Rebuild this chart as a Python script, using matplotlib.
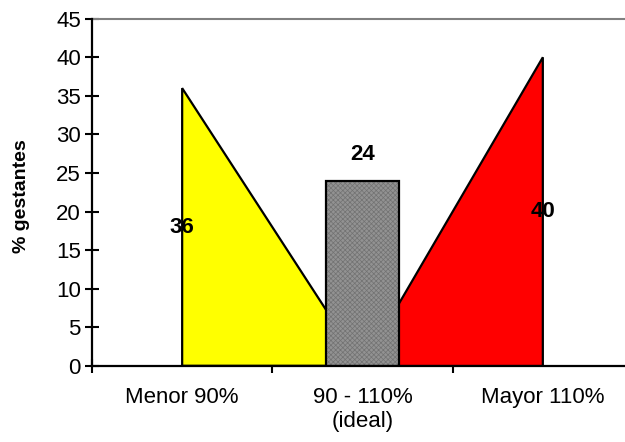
import matplotlib
matplotlib.use("Agg")
import matplotlib.pyplot as plt
import numpy as np

plt.rcParams['font.family'] = ['Liberation Sans', 'DejaVu Sans']
plt.rcParams['hatch.linewidth'] = 0.5

categories = ["Menor 90%", "90 - 110%\n(ideal)", "Mayor 110%"]
menor = [36, 0, 0]
ideal = [0, 24, 0]
mayor = [0, 0, 40]
yticks = list(range(0, 50, 5))

fig = plt.figure(figsize=(6.25, 4.42), dpi=100)
ax = fig.add_axes([92 / 625, 76 / 442, 541 / 625, 347.3 / 442])

x = np.arange(len(categories))

# area series: polygons closed down to the baseline
ax.fill(np.concatenate([x[:1], x]), np.concatenate([[0], menor]),
        facecolor="#ffff00", edgecolor="black", linewidth=1.6, zorder=2)
ax.fill(np.concatenate([x, x[-1:]]), np.concatenate([mayor, [0]]),
        facecolor="#ff0000", edgecolor="black", linewidth=1.6, zorder=2)

# column series: textured fill, then the black outline on top
ax.bar(x[1], ideal[1], width=0.4, facecolor="#929292", edgecolor="#727272",
       linewidth=0, hatch="xxxxxxx", zorder=3)
ax.bar(x[1], ideal[1], width=0.4, facecolor="none", edgecolor="black",
       linewidth=1.6, zorder=4)

# value labels
ax.text(x[0], menor[0] / 2, str(menor[0]), ha="center", va="center",
        fontsize=16, fontweight="bold", zorder=5)
ax.text(x[2], mayor[2] / 2, str(mayor[2]), ha="center", va="center",
        fontsize=16, fontweight="bold", zorder=5)
ax.annotate(str(ideal[1]), (x[1], ideal[1]), xytext=(0, 19),
            textcoords="offset points", ha="center", va="center",
            fontsize=16, fontweight="bold", zorder=5)

ax.set_xlim(-0.5, 2.5)
ax.set_ylim(0, 45)
ax.set_yticks(yticks)
ax.tick_params(axis="y", direction="inout", length=10, width=1.5,
               labelsize=16, pad=3)

ax.set_xticks([-0.5, 0.5, 1.5, 2.5])
ax.set_xticklabels([])
ax.tick_params(axis="x", which="major", direction="inout", length=10, width=1.5)
ax.set_xticks(x, minor=True)
ax.set_xticklabels(categories, minor=True)
ax.tick_params(axis="x", which="minor", length=0, labelsize=16, pad=15)

ax.spines["right"].set_visible(False)
ax.spines["top"].set_color("#808080")
ax.spines["top"].set_linewidth(1.5)
ax.spines["left"].set_linewidth(1.6)
ax.spines["bottom"].set_linewidth(1.6)
ax.spines["left"].set_zorder(6)
ax.spines["bottom"].set_zorder(6)

ax.set_ylabel("% gestantes", fontsize=14, fontweight="bold")
ax.yaxis.set_label_coords(-0.115, 0.49)

fig.savefig("out.png", dpi=100)
